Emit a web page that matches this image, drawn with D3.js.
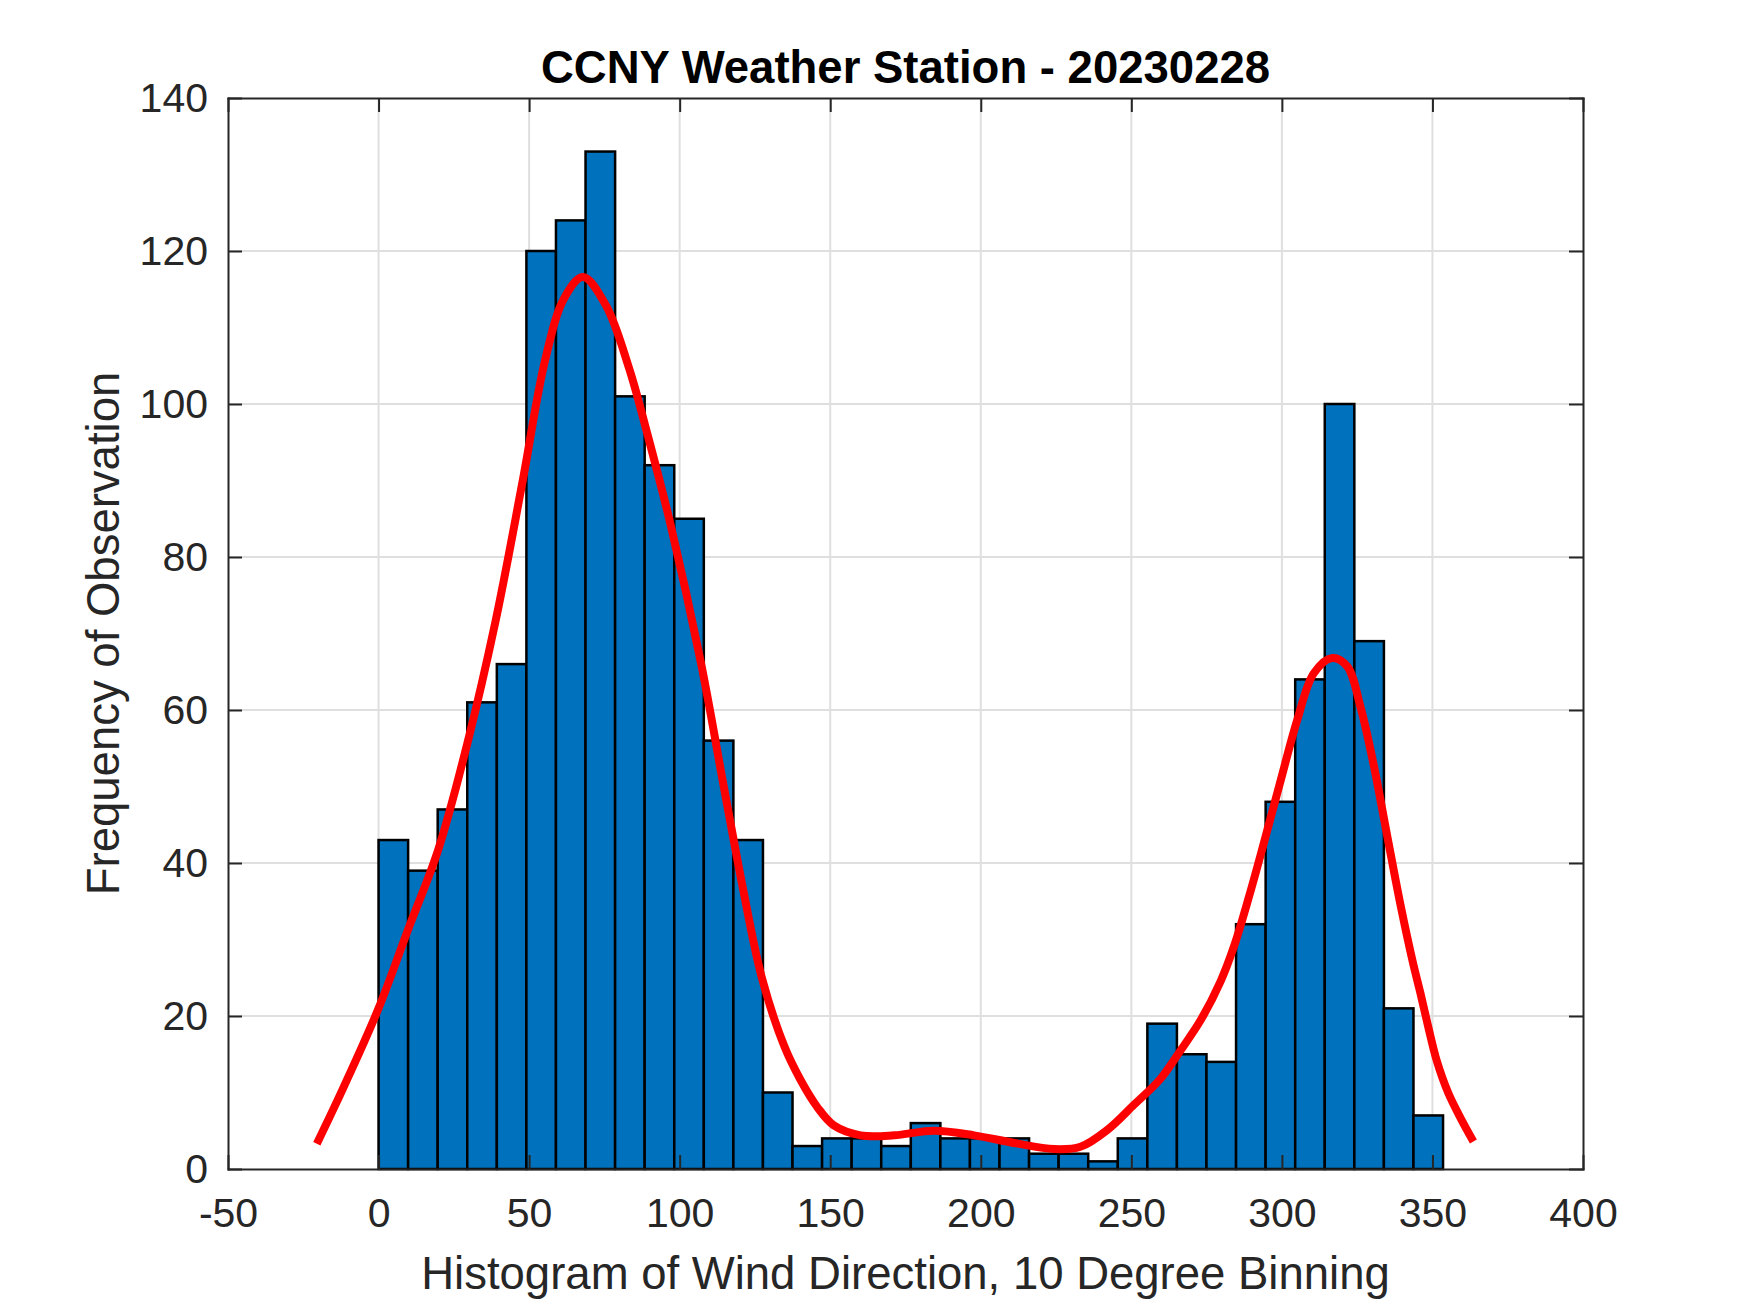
<!DOCTYPE html>
<html lang="en">
<head>
  <meta charset="UTF-8" />
  <title>CCNY Weather Station - 20230228</title>
  <style>
    body { margin: 0; padding: 0; background: #fff; }
    svg { display: block; }
    text { font-family: "Liberation Sans", Arial, Helvetica, sans-serif; }
  </style>
</head>
<body>
  <svg id="chart"></svg>

  <script src="https://d3js.org/d3.v7.min.js"></script>
  <script>
    // histogram: 36 bins starting at 0 deg
    const binStart = 0;
    const binWidth = 9.82;
    const counts = [43, 39, 47, 61, 66, 120, 124, 133, 101, 92, 85, 56, 43, 10, 3, 4, 4, 3,
                    6, 4, 4, 4, 2, 2, 1, 4, 19, 15, 14, 32, 48, 64, 100, 69, 21, 7];

    // red density fit
    const fitX = [-20.5, -11.6, 0, 9.8, 19.7, 29.4, 38.9, 47.7, 55.3, 61.6, 67.9, 75.5, 83.1, 89.4,
                  97, 107, 114.6, 121, 127.3, 134.8, 140.2, 145.7, 151.2, 160.1, 171.2, 184.5,
                  197.8, 211.1, 224.4, 233.1, 242, 250.9, 259.7, 266, 273.1, 279.6, 284, 289,
                  294, 299.6, 305.1, 310.6, 316.7, 321.7, 326.1, 330.6, 335, 339.4, 343.5, 346,
                  348.6, 351.4, 355.3, 359.7, 363.6];
    const fitY = [3.3, 10.7, 21, 31.3, 41.6, 55.5, 71.7, 89.6, 105.7, 113.8, 116.6, 112.9, 104.8, 95.9,
                  84.2, 66.3, 50.1, 36.7, 25, 16, 11.6, 8.1, 5.7, 4.4, 4.4, 5.0,
                  4.4, 3.4, 2.6, 2.9, 5.1, 8.4, 11.8, 15.3, 19.5, 24.5, 29, 35.5,
                  42.6, 50.8, 58.7, 64.8, 66.8, 65.7, 60.4, 52.6, 43.5, 34.5, 27, 23,
                  18.6, 14.2, 9.9, 6.4, 3.6];

    const xTicks = [-50, 0, 50, 100, 150, 200, 250, 300, 350, 400];
    const yTicks = [0, 20, 40, 60, 80, 100, 120, 140];

    const width = 1750, height = 1313;
    const plot = { left: 228, right: 1583, top: 98, bottom: 1169 };
    const axisColor = "#262626";

    const svg = d3.select("#chart")
      .attr("width", width)
      .attr("height", height);

    const x = d3.scaleLinear().domain([-50, 400]).range([plot.left, plot.right]);
    const y = d3.scaleLinear().domain([0, 140]).range([plot.bottom, plot.top]);

    // grid
    const grid = svg.append("g").attr("stroke", "#dfdfdf").attr("stroke-width", 2);
    grid.selectAll("line.gx")
      .data(xTicks.slice(1, -1))
      .join("line")
      .attr("class", "gx")
      .attr("x1", d => x(d)).attr("x2", d => x(d))
      .attr("y1", plot.top).attr("y2", plot.bottom);
    grid.selectAll("line.gy")
      .data(yTicks.slice(1, -1))
      .join("line")
      .attr("class", "gy")
      .attr("x1", plot.left).attr("x2", plot.right)
      .attr("y1", d => y(d)).attr("y2", d => y(d));

    // bars
    svg.append("g")
      .selectAll("rect")
      .data(counts)
      .join("rect")
      .attr("x", (d, i) => x(binStart + i * binWidth))
      .attr("width", (d, i) => x(binStart + (i + 1) * binWidth) - x(binStart + i * binWidth))
      .attr("y", d => y(d))
      .attr("height", d => y(0) - y(d))
      .attr("fill", "#0072BD")
      .attr("stroke", "#000")
      .attr("stroke-width", 2.5);

    // fit line
    const line = d3.line()
      .x(d => x(d[0]))
      .y(d => y(d[1]))
      .curve(d3.curveCatmullRom.alpha(0.5));

    svg.append("path")
      .datum(fitX.map((v, i) => [v, fitY[i]]))
      .attr("fill", "none")
      .attr("stroke", "#ff0000")
      .attr("stroke-width", 8)
      .attr("d", line);

    // axes (box on, ticks inward)
    const styleAxis = g => {
      g.selectAll("path, line").attr("stroke", axisColor).attr("stroke-width", 2);
      g.selectAll("text").attr("fill", axisColor).attr("font-size", 41)
        .attr("font-family", "'Liberation Sans', Arial, sans-serif");
    };

    svg.append("g")
      .attr("transform", `translate(0,${plot.bottom})`)
      .call(d3.axisBottom(x).tickValues(xTicks).tickFormat(d => String(d))
        .tickSize(-14).tickSizeOuter(0).tickPadding(29))
      .call(styleAxis);

    svg.append("g")
      .attr("transform", `translate(0,${plot.top})`)
      .call(d3.axisTop(x).tickValues(xTicks).tickSize(-14).tickSizeOuter(0).tickFormat(""))
      .call(styleAxis);

    svg.append("g")
      .attr("transform", `translate(${plot.left},0)`)
      .call(d3.axisLeft(y).tickValues(yTicks).tickSize(-14).tickSizeOuter(0).tickPadding(20))
      .call(styleAxis);

    svg.append("g")
      .attr("transform", `translate(${plot.right},0)`)
      .call(d3.axisRight(y).tickValues(yTicks).tickSize(-14).tickSizeOuter(0).tickFormat(""))
      .call(styleAxis);

    svg.selectAll(".domain").attr("stroke-linecap", "square");

    // title and labels
    svg.append("text")
      .attr("x", (plot.left + plot.right) / 2)
      .attr("y", 83)
      .attr("text-anchor", "middle")
      .attr("font-size", 45.5)
      .attr("font-weight", "bold")
      .attr("fill", "#000")
      .text("CCNY Weather Station - 20230228");

    svg.append("text")
      .attr("x", (plot.left + plot.right) / 2)
      .attr("y", 1289)
      .attr("text-anchor", "middle")
      .attr("font-size", 45.5)
      .attr("fill", axisColor)
      .text("Histogram of Wind Direction, 10 Degree Binning");

    svg.append("text")
      .attr("transform", `translate(119,${(plot.top + plot.bottom) / 2}) rotate(-90)`)
      .attr("text-anchor", "middle")
      .attr("font-size", 45.5)
      .attr("fill", axisColor)
      .text("Frequency of Observation");
  </script>
</body>
</html>
